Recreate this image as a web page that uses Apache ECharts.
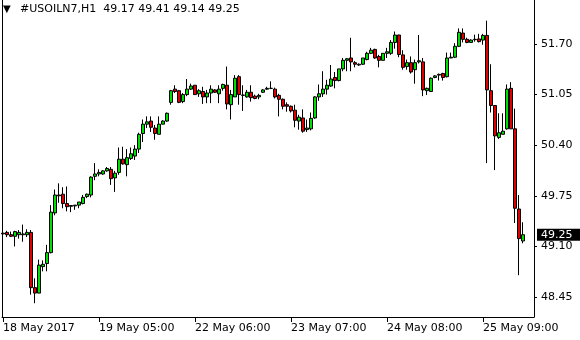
<!DOCTYPE html>
<html><head><meta charset="utf-8">
<script src="https://cdn.jsdelivr.net/npm/echarts@6/dist/echarts.min.js"></script>
<style>html,body{margin:0;padding:0;background:#fff}#c{width:580px;height:340px}</style>
</head><body><div id="c"></div>
<script>
const symbolName = '#USOILN7,H1';
const dateLabels = ['18 May 2017','19 May 05:00','22 May 06:00','23 May 07:00','24 May 08:00','25 May 09:00'];
const dateLabelBars = [0,24,48,72,96,120];
const priceTicks = [48.45,49.10,49.75,50.40,51.05,51.70];

const opens = [
49.27,49.28,49.25,49.23,49.25,49.26,49.25,49.28,48.57,48.50,
48.84,48.88,49.02,49.53,49.76,49.77,49.65,49.625,49.62,49.63,
49.65,49.74,49.76,50.00,50.03,50.03,50.07,50.09,49.98,50.05,
50.22,50.15,50.23,50.26,50.35,50.55,50.67,50.71,50.62,50.54,
50.67,50.71,50.95,51.12,51.10,50.96,51.05,51.12,51.17,51.06,
51.09,51.02,51.07,51.11,51.06,51.13,51.17,50.92,51.02,51.28,
51.045,51.02,51.08,51.03,51.02,51.08,51.12,51.13,51.12,51.04,
50.99,50.92,50.90,50.85,50.71,50.75,50.60,50.61,50.75,51.02,
51.06,51.12,51.16,51.27,51.23,51.38,51.49,51.52,51.46,51.43,
51.44,51.50,51.58,51.63,51.54,51.49,51.58,51.58,51.72,51.815,
51.56,51.41,51.46,51.37,51.47,51.47,51.10,51.09,51.27,51.30,
51.32,51.28,51.52,51.53,51.67,51.84,51.76,51.72,51.755,51.765,
51.75,51.81,51.10,50.91,50.50,50.54,50.61,51.13,50.61,49.58,
49.17];
const closes = [
49.26,49.25,49.23,49.29,49.28,49.25,49.28,48.57,48.50,48.86,
48.87,49.02,49.54,49.76,49.75,49.65,49.61,49.615,49.63,49.67,
49.73,49.77,49.99,50.03,50.05,50.07,50.10,49.97,50.04,50.22,
50.16,50.24,50.29,50.35,50.54,50.67,50.70,50.63,50.55,50.67,
50.71,50.81,51.10,51.09,50.95,51.05,51.12,51.16,51.05,51.10,
51.02,51.07,51.12,51.08,51.12,51.18,50.93,51.05,51.26,51.05,
51.04,51.08,51.01,51.00,51.04,51.11,51.13,51.13,51.02,50.99,
50.90,50.90,50.84,50.72,50.76,50.58,50.62,50.745,51.02,51.06,
51.12,51.17,51.25,51.23,51.38,51.49,51.51,51.47,51.44,51.44,
51.52,51.58,51.62,51.52,51.49,51.58,51.60,51.72,51.815,51.565,
51.40,51.46,51.34,51.46,51.485,51.11,51.13,51.26,51.29,51.31,
51.27,51.52,51.53,51.67,51.85,51.76,51.72,51.75,51.76,51.73,
51.81,51.11,50.91,50.52,50.56,50.58,51.12,50.61,49.59,49.20,
49.25];
const lows = [
49.23,49.22,49.22,49.10,49.20,49.16,49.22,48.48,48.37,48.50,
48.78,48.78,49.01,49.50,49.66,49.59,49.55,49.54,49.57,49.59,
49.64,49.72,49.73,49.95,50.00,50.02,50.06,49.89,49.80,50.02,
50.15,50.00,50.21,50.21,50.30,50.44,50.62,50.57,50.47,50.54,
50.67,50.70,50.92,51.07,50.94,50.94,51.03,51.11,51.05,51.02,
50.93,50.94,50.94,51.07,50.94,51.10,50.86,50.73,51.02,50.92,
50.84,51.01,50.96,50.99,50.99,51.07,51.11,51.12,51.00,50.77,
50.86,50.83,50.82,50.63,50.60,50.56,50.57,50.59,50.74,50.97,
51.02,51.05,51.15,51.13,51.22,51.35,51.35,51.35,51.40,51.42,
51.43,51.49,51.57,51.51,51.40,51.49,51.52,51.56,51.64,51.53,
51.37,51.37,51.32,51.19,51.45,51.03,51.045,51.09,51.26,51.23,
51.23,51.27,51.52,51.52,51.66,51.72,51.71,51.72,51.73,51.72,
51.69,50.17,50.82,50.08,50.48,50.54,50.60,50.61,49.40,48.73,
49.14];
const highs = [
49.30,49.30,49.29,49.30,49.31,49.38,49.32,49.31,48.69,48.93,
48.92,49.12,49.63,49.83,49.91,49.86,49.87,49.63,49.63,49.67,
49.76,49.78,50.00,50.17,50.09,50.08,50.12,50.12,50.07,50.37,
50.38,50.35,50.37,50.40,50.56,50.73,50.77,50.77,50.66,50.77,
50.72,50.82,51.11,51.17,51.11,51.07,51.25,51.19,51.17,51.12,
51.15,51.11,51.17,51.12,51.17,51.19,51.41,51.11,51.30,51.30,
51.17,51.11,51.17,51.05,51.06,51.12,51.15,51.22,51.14,51.06,
51.00,50.95,50.91,50.92,50.79,50.86,50.73,50.82,51.03,51.18,
51.35,51.24,51.43,51.34,51.38,51.52,51.52,51.78,51.48,51.45,
51.52,51.60,51.65,51.64,51.56,51.58,51.65,51.75,51.86,51.82,
51.62,51.50,51.54,51.50,51.815,51.52,51.14,51.27,51.30,51.32,
51.33,51.59,51.59,51.71,51.90,51.90,51.78,51.76,51.82,51.83,
51.83,52.00,51.44,50.91,50.81,50.81,51.18,51.21,50.87,49.76,
49.41];

const last = opens.length - 1;
const headerText = symbolName + '  ' +
  [opens[last], highs[last], lows[last], closes[last]].map(v => v.toFixed(2)).join(' ');
const candles = opens.map((o, i) => [i, o, closes[i], lows[i], highs[i]]);

const FONT = 'DejaVu Sans';
const chart = echarts.init(document.getElementById('c'), null, {renderer: 'canvas'});
chart.setOption({
  animation: false,
  backgroundColor: '#ffffff',
  title: [
    {text: '▼', left: 3, top: 4, padding: 0,
     textStyle: {fontSize: 10, color: '#000', fontWeight: 'normal', fontFamily: FONT}},
    {text: headerText, left: 20, top: 4, padding: 0,
     textStyle: {fontSize: 11, color: '#000', fontWeight: 'normal', fontFamily: FONT}}
  ],
  grid: {left: 2, right: 46, top: 0, bottom: 23},
  xAxis: {
    type: 'value', min: -0.25, max: 132.75,
    axisLine: {show: true, onZero: false, lineStyle: {color: '#000', width: 1}},
    axisTick: {show: true, customValues: dateLabelBars, length: 5, lineStyle: {color: '#000'}},
    axisLabel: {show: true, customValues: dateLabelBars, align: 'left', margin: 6,
      color: '#000', fontFamily: FONT, fontSize: 11,
      formatter: v => dateLabels[dateLabelBars.indexOf(Math.round(v))] || ''},
    splitLine: {show: false}
  },
  yAxis: [{
    type: 'value', position: 'right', min: 48.193, max: 52.265,
    axisLine: {show: true, onZero: false, lineStyle: {color: '#000', width: 1}},
    axisTick: {show: true, customValues: priceTicks, length: 3, lineStyle: {color: '#000'}},
    axisLabel: {show: true, customValues: priceTicks, margin: 7, color: '#000',
      fontFamily: FONT, fontSize: 11, formatter: v => v.toFixed(2)},
    splitLine: {show: false}
  }, {
    type: 'value', position: 'left', min: 48.193, max: 52.265,
    axisLine: {show: true, onZero: false, lineStyle: {color: '#000', width: 1}},
    axisTick: {show: false}, axisLabel: {show: false}, splitLine: {show: false}
  }],
  series: [{
    type: 'candlestick',
    data: candles,
    encode: {x: 0, y: [1, 2, 3, 4]},
    barWidth: 3,
    itemStyle: {
      color: '#00e000', color0: '#e00000',
      borderColor: '#000', borderColor0: '#000', borderColorDoji: '#000',
      borderWidth: 1
    },
    markLine: {
      silent: true, symbol: ['none', 'none'],
      lineStyle: {color: 'rgba(0,0,0,0)', width: 0, type: 'solid'},
      emphasis: {disabled: true},
      label: {show: true, position: 'end', distance: 3,
        formatter: closes[last].toFixed(2),
        color: '#fff', backgroundColor: '#000', padding: [1, 9, 0, 4],
        fontFamily: FONT, fontSize: 11},
      data: [{yAxis: closes[last]}]
    }
  }]
});
</script></body></html>
